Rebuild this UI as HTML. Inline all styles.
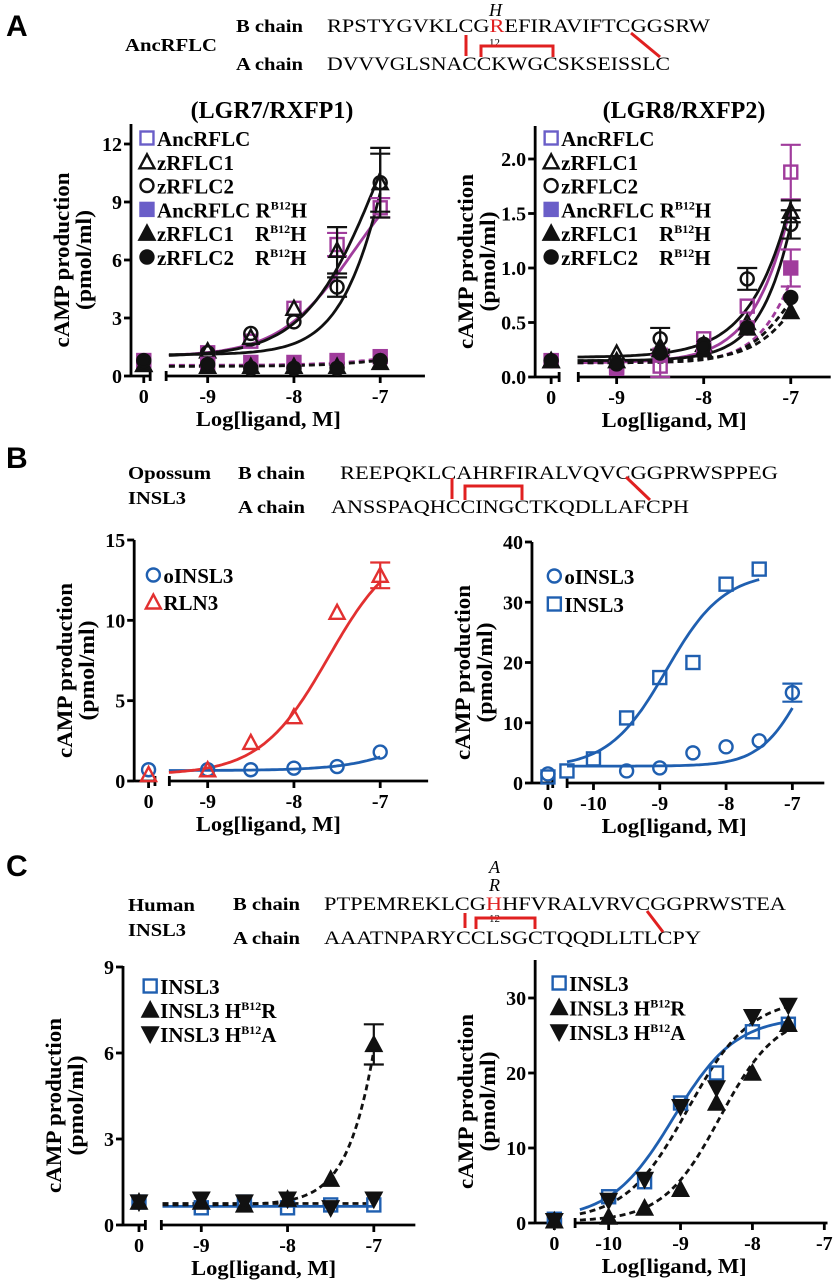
<!DOCTYPE html>
<html><head><meta charset="utf-8"><style>
html,body{margin:0;padding:0;background:#fff;}
svg{display:block;}
text{font-family:"Liberation Serif",serif;}
</style></head><body>
<svg id="fig" width="834" height="1280" viewBox="0 0 834 1280" xmlns="http://www.w3.org/2000/svg">
<g>
<text x="6" y="36" font-weight="bold" font-size="30" style="font-family:'Liberation Sans',sans-serif">A</text>
<text x="125" y="51" font-size="18" font-weight="bold" textLength="92" lengthAdjust="spacingAndGlyphs">AncRFLC</text>
<text x="236" y="32" font-size="18" font-weight="bold" textLength="67" lengthAdjust="spacingAndGlyphs">B chain</text>
<text x="236" y="70" font-size="18" font-weight="bold" textLength="67" lengthAdjust="spacingAndGlyphs">A chain</text>
<text x="489" y="16" font-size="18" font-style="italic">H</text>
<text x="327" y="32" font-size="19" textLength="383" lengthAdjust="spacingAndGlyphs">RPSTYGVKLCG<tspan fill="#e02020">R</tspan>EFIRAVIFTCGGSRW</text>
<text x="489" y="46" font-size="11">12</text>
<text x="327" y="70" font-size="19" textLength="343" lengthAdjust="spacingAndGlyphs">DVVVGLSNACCKWGCSKSEISSLC</text>
<g stroke="#e02020" stroke-width="3" fill="none">
<line x1="466" y1="35" x2="466" y2="56"/><polyline points="481,57 481,46 553,46 553,57"/><line x1="631" y1="33" x2="660" y2="57"/></g>
<text x="272" y="118" font-size="24" font-weight="bold" text-anchor="middle">(LGR7/RXFP1)</text>
<text x="684" y="118" font-size="24" font-weight="bold" text-anchor="middle">(LGR8/RXFP2)</text>
</g>
<g>
<text x="6" y="468" font-weight="bold" font-size="30" style="font-family:'Liberation Sans',sans-serif">B</text>
<text x="128" y="479" font-size="18" font-weight="bold" textLength="83" lengthAdjust="spacingAndGlyphs">Opossum</text>
<text x="128" y="504" font-size="18" font-weight="bold" textLength="58" lengthAdjust="spacingAndGlyphs">INSL3</text>
<text x="238" y="479" font-size="18" font-weight="bold" textLength="67" lengthAdjust="spacingAndGlyphs">B chain</text>
<text x="238" y="513" font-size="18" font-weight="bold" textLength="67" lengthAdjust="spacingAndGlyphs">A chain</text>
<text x="340" y="479" font-size="19" textLength="438" lengthAdjust="spacingAndGlyphs">REEPQKLCAHRFIRALVQVCGGPRWSPPEG</text>
<text x="331" y="513" font-size="19" textLength="358" lengthAdjust="spacingAndGlyphs">ANSSPAQHCCINGCTKQDLLAFCPH</text>
<g stroke="#e02020" stroke-width="3" fill="none">
<line x1="452" y1="478" x2="452" y2="499"/><polyline points="465,500 465,486 522,486 522,500"/><line x1="626" y1="477" x2="650" y2="500"/></g>
</g>
<g>
<text x="6" y="876" font-weight="bold" font-size="30" style="font-family:'Liberation Sans',sans-serif">C</text>
<text x="489" y="873" font-size="18" font-style="italic">A</text>
<text x="489" y="891" font-size="18" font-style="italic">R</text>
<text x="128" y="911" font-size="18" font-weight="bold" textLength="67" lengthAdjust="spacingAndGlyphs">Human</text>
<text x="128" y="936" font-size="18" font-weight="bold" textLength="58" lengthAdjust="spacingAndGlyphs">INSL3</text>
<text x="233" y="910" font-size="18" font-weight="bold" textLength="67" lengthAdjust="spacingAndGlyphs">B chain</text>
<text x="233" y="944" font-size="18" font-weight="bold" textLength="67" lengthAdjust="spacingAndGlyphs">A chain</text>
<text x="324" y="910" font-size="19" textLength="462" lengthAdjust="spacingAndGlyphs">PTPEMREKLCG<tspan fill="#e02020">H</tspan>HFVRALVRVCGGPRWSTEA</text>
<text x="489" y="922" font-size="11">12</text>
<text x="324" y="944" font-size="19" textLength="377" lengthAdjust="spacingAndGlyphs">AAATNPARYCCLSGCTQQDLLTLCPY</text>
<g stroke="#e02020" stroke-width="3" fill="none">
<line x1="465" y1="913" x2="465" y2="928"/><polyline points="476,929 476,918 535,918 535,929"/><line x1="647" y1="911" x2="663" y2="932"/></g>
</g>
<g id="charts"></g>
</svg>
<script>
// ---------- DATA ----------
const aL_x = [0, -9, -8.5, -8, -7.5, -7];
const aL_anc = [0.7, 1.2, 1.8, 3.5, 6.8, 8.7];
const aL_z1 = [0.6, 1.3, 2.0, 3.5, 6.5, 10.0];
const aL_z2 = [0.7, 1.2, 2.2, 2.8, 4.6, 10.0];
const aL_ancM = [0.8, 0.6, 0.7, 0.7, 0.8, 1.0];
const aL_z1M = [0.6, 0.5, 0.5, 0.5, 0.5, 0.7];
const aL_z2M = [0.8, 0.6, 0.4, 0.4, 0.4, 0.8];
const aL_err_anc = [0, 0, 0, 0, 0.6, 0.5];
const aL_err_z1 = [0, 0, 0, 0, 1.2, 1.8];
const aL_err_z2 = [0, 0, 0, 0, 0.5, 1.5];
const aR_x = [0, -9, -8.5, -8, -7.5, -7];
const aR_anc = [0.15, 0.1, 0.1, 0.35, 0.65, 1.88];
const aR_z1 = [0.15, 0.22, 0.28, 0.3, 0.5, 1.52];
const aR_z2 = [0.15, 0.1, 0.35, 0.3, 0.9, 1.4];
const aR_ancM = [0.15, 0.08, 0.2, 0.25, 0.45, 1.0];
const aR_z1M = [0.15, 0.15, 0.25, 0.25, 0.45, 0.6];
const aR_z2M = [0.15, 0.12, 0.22, 0.28, 0.45, 0.73];
const aR_err_anc = [0, 0, 0.1, 0, 0, 0.25];
const aR_err_z1 = [0, 0, 0, 0, 0, 0.1];
const aR_err_z2 = [0, 0, 0.1, 0, 0.1, 0.13];
const aR_err_ancM = [0, 0, 0, 0, 0, 0.17];
const bL_x = [0, -9, -8.5, -8, -7.5, -7];
const bL_oinsl3 = [0.7, 0.7, 0.7, 0.8, 0.9, 1.8];
const bL_rln3 = [0.4, 0.7, 2.4, 4.0, 10.5, 12.8];
const bL_err_rln3 = [0, 0, 0, 0, 0, 0.8];
const bR_xo = [0, -9.5, -9, -8.5, -8, -7.5, -7];
const bR_oinsl3 = [1.5, 2.0, 2.5, 5.0, 6.0, 7.0, 15.0];
const bR_err_o = [0, 0, 0, 0, 0, 0, 1.5];
const bR_xs = [0, -10.4, -10, -9.5, -9, -8.5, -8, -7.5];
const bR_insl3 = [1.0, 2.0, 4.0, 10.8, 17.5, 20.0, 33.0, 35.5];
const cL_x = [0, -9, -8.5, -8, -7.5, -7];
const cL_insl3 = [0.8, 0.6, 0.8, 0.6, 0.7, 0.7];
const cL_hr = [0.8, 0.8, 0.7, 0.9, 1.6, 6.3];
const cL_ha = [0.8, 0.9, 0.8, 0.9, 0.6, 0.9];
const cL_err_hr = [0, 0, 0, 0, 0, 0.7];
const cR_x = [0, -10, -9.5, -9, -8.5, -8, -7.5];
const cR_insl3 = [0.5, 3.5, 5.5, 16.0, 20.0, 25.5, 26.5];
const cR_hr = [0.3, 0.8, 2.0, 4.5, 16.0, 20.0, 26.5];
const cR_ha = [0.3, 3.0, 5.8, 15.5, 18.0, 27.5, 29.0];
// Fitted curve parameters [bottom, top, logEC50, hill]
const fit_aL = [[1.0,12,-7.3,1.0],[1.0,20,-7.0,1.0],[1.1,30,-6.7,1.3],[0.55,2,-6.5,1.0],[0.5,1.6,-6.6,1.0]];
const fit_aR = [[0.13,10,-6.36,1.2],[0.18,10,-6.3,1.1],[0.15,10,-6.4,1.4],[0.13,3,-6.7,1.5],[0.15,1.5,-6.8,1.5],[0.13,1.5,-6.9,1.5]];
const fit_bL = [[0.65,10,-6.0,1.0],[0.4,15,-7.6,1.1]];
const fit_bR = [[2.5,35,-8.9,1.0],[2.8,30,-6.8,1.3]];
const fit_cL = [[0.65,0.65,-7,1],[0.75,0.75,-7,1],[0.7,40,-6.5,1.6]];
const fit_cR = [[0.5,27.5,-9.1,1.0],[0.3,30,-8.9,1.0],[0.2,28,-8.45,1.1]];

// ---------- DRAWING ----------
const NS = 'http://www.w3.org/2000/svg';
const root = document.getElementById('charts');
const SX = 1.5975;
const PURPLE='#a03c9c', LPURPLE='#6a5ec8', BLUE='#1f5fb0', RED='#e23030', BLACK='#111';
function mk(tag, attrs, parent){const e=document.createElementNS(NS,tag);for(const k in attrs)e.setAttribute(k,attrs[k]);(parent||root).appendChild(e);return e;}

function marker(g, shape, cx, cy, s, color, fill){
  const sw=2.4; let e;
  const f = fill ? color : 'none';
  if(shape==='sq'){e=mk('rect',{x:cx-s/2,y:cy-s/2,width:s,height:s,fill:f,stroke:color,'stroke-width':sw},g);}
  else if(shape==='ci'){e=mk('circle',{cx:cx,cy:cy,r:s/2,fill:f,stroke:color,'stroke-width':sw},g);}
  else if(shape==='tu'){e=mk('polygon',{points:`${cx},${cy-s/2-1} ${cx-s/2-1},${cy+s/2} ${cx+s/2+1},${cy+s/2}`,fill:f,stroke:color,'stroke-width':sw},g);}
  else if(shape==='td'){e=mk('polygon',{points:`${cx},${cy+s/2+1} ${cx-s/2-1},${cy-s/2} ${cx+s/2+1},${cy-s/2}`,fill:f,stroke:color,'stroke-width':sw},g);}
  return e;
}

function chart(cfg){
  ['yAxisX','zeroX','zeroEnd','mainStart','mainEnd','xRef','dec','xTitleX','legX'].forEach(k=>cfg[k]*=SX);
  const g = mk('g',{});
  
  
  const X = v => v===0 ? cfg.zeroX : cfg.xRef + (v - cfg.xRefVal)*cfg.dec;
  const Y = v => cfg.y0 - v*cfg.ppu;
  const ax = mk('g',{stroke:'#000','stroke-width':2.8,fill:'none'},g);
  
  
  mk('line',{x1:cfg.yAxisX,y1:cfg.y0+1,x2:cfg.yAxisX,y2:cfg.yTop},ax);
  mk('line',{x1:cfg.yAxisX,y1:cfg.y0,x2:cfg.zeroEnd,y2:cfg.y0},ax);
  mk('line',{x1:cfg.zeroEnd,y1:cfg.y0-5,x2:cfg.zeroEnd,y2:cfg.y0+5},ax);
  mk('line',{x1:cfg.mainStart,y1:cfg.y0-5,x2:cfg.mainStart,y2:cfg.y0+5},ax);
  mk('line',{x1:cfg.mainStart,y1:cfg.y0,x2:cfg.mainEnd,y2:cfg.y0},ax);
  mk('line',{x1:cfg.zeroX,y1:cfg.y0,x2:cfg.zeroX,y2:cfg.y0+7},ax);
  cfg.yTicks.forEach((t,i)=>{
    mk('line',{x1:cfg.yAxisX-7,y1:Y(t),x2:cfg.yAxisX,y2:Y(t)},ax);
    const tx=mk('text',{x:cfg.yAxisX-9,y:Y(t)+7,'font-size':20,'font-weight':'bold','text-anchor':'end',fill:'#000'},g);
    tx.textContent=cfg.yTickLabels[i];
    
    
  });
  const xt=mk('text',{x:cfg.zeroX,y:cfg.y0+27,'font-size':20,'font-weight':'bold','text-anchor':'middle'},g);
  xt.textContent='0';
  
  
  cfg.xTicks.forEach(t=>{
    mk('line',{x1:X(t),y1:cfg.y0,x2:X(t),y2:cfg.y0+7},ax);
    const e=mk('text',{x:X(t),y:cfg.y0+27,'font-size':20,'font-weight':'bold','text-anchor':'middle'},g);
    e.textContent=String(t);
    
    
  });
  const cy=(cfg.y0+cfg.yTop)/2+10;
  const t1=mk('text',{x:0,y:0,'font-size':22,'font-weight':'bold','text-anchor':'middle',textLength:175,lengthAdjust:'spacingAndGlyphs',transform:`translate(${cfg.yAxisX-62},${cy}) rotate(-90)`},g);
  t1.textContent='cAMP production';
  
  
  const t2=mk('text',{x:0,y:0,'font-size':22,'font-weight':'bold','text-anchor':'middle',textLength:100,lengthAdjust:'spacingAndGlyphs',transform:`translate(${cfg.yAxisX-40},${cy}) rotate(-90)`},g);
  t2.textContent='(pmol/ml)';
  
  
  const t3=mk('text',{x:cfg.xTitleX,y:cfg.y0+50,'font-size':21,'font-weight':'bold','text-anchor':'middle',textLength:145,lengthAdjust:'spacingAndGlyphs'},g);
  t3.textContent='Log[ligand, M]';
  
  
  cfg.fits.forEach((p,i)=>{
    const st=cfg.fitStyle[i]; let d='';
    const x0=st.from, x1=st.to;
    for(let k=0;k<=80;k++){const xv=x0+(x1-x0)*k/80;const yv=p[0]+(p[1]-p[0])/(1+Math.pow(10,(p[2]-xv)*p[3]));d+=(k?'L':'M')+X(xv).toFixed(1)+','+Y(yv).toFixed(1);}
    const c=mk('path',{d:d,fill:'none',stroke:st.color,'stroke-width':2.8,'stroke-dasharray':st.dash?'6,4':'none'},g);
    
    
  });
  cfg.series.forEach(s=>{
    const sg=mk('g',{},g);
    
    
    s.y.forEach((v,i)=>{
      const px=X(s.x[i]), py=Y(v);
      if(s.err && s.err[i]>0){
        const e=s.err[i];
        mk('line',{x1:px,y1:Y(v+e),x2:px,y2:Y(v-e),stroke:s.color,'stroke-width':2.2},sg);
        mk('line',{x1:px-10,y1:Y(v+e),x2:px+10,y2:Y(v+e),stroke:s.color,'stroke-width':2.2},sg);
        mk('line',{x1:px-10,y1:Y(v-e),x2:px+10,y2:Y(v-e),stroke:s.color,'stroke-width':2.2},sg);
      }
      const m=marker(sg,s.shape,px,py,13,s.color,s.fill);
      
      
    });
  });
  cfg.legend.forEach((L,i)=>{
    const lg=mk('g',{},g);
    
    
    const ly=cfg.legY+i*cfg.legDy;
    marker(lg,L.shape,cfg.legX,ly,13,L.color,L.fill);
    const tx=mk('text',{x:cfg.legX+10,y:ly+8,'font-size':21,'font-weight':'bold'},lg);
    tx.innerHTML=L.html;
  });
}

const sup='<tspan font-size="12" dy="-8">B12</tspan><tspan dy="8">';
const HV = (s,t)=>s+sup+t+'</tspan>';

chart({name:'chart-a-lgr7',yAxisX:82,y0:376,ppu:232/12,yTop:124,yTicks:[0,3,6,9,12],yTickLabels:['0','3','6','9','12'],
  zeroX:90,zeroEnd:94,mainStart:104,mainEnd:266,xRef:238,xRefVal:-7,dec:54,xTicks:[-9,-8,-7],xTitleX:168,
  fits:fit_aL,fitStyle:[{color:PURPLE,from:-9.45,to:-7},{color:BLACK,from:-9.45,to:-7},{color:BLACK,from:-9.45,to:-7},{color:PURPLE,dash:1,from:-9.45,to:-7},{color:BLACK,dash:1,from:-9.45,to:-7}],
  series:[{key:'anc',x:aL_x,y:aL_anc,err:aL_err_anc,shape:'sq',color:PURPLE},{key:'z1',x:aL_x,y:aL_z1,err:aL_err_z1,shape:'tu',color:BLACK},{key:'z2',x:aL_x,y:aL_z2,err:aL_err_z2,shape:'ci',color:BLACK},
    {key:'anc-mut',x:aL_x,y:aL_ancM,shape:'sq',color:PURPLE,fill:1},{key:'z1-mut',x:aL_x,y:aL_z1M,shape:'tu',color:BLACK,fill:1},{key:'z2-mut',x:aL_x,y:aL_z2M,shape:'ci',color:BLACK,fill:1}],
  legX:92,legY:138,legDy:23.8,legend:[{shape:'sq',color:LPURPLE,html:'AncRFLC'},{shape:'tu',color:BLACK,html:'zRFLC1'},{shape:'ci',color:BLACK,html:'zRFLC2'},
    {shape:'sq',color:LPURPLE,fill:1,html:HV('AncRFLC R','H')},{shape:'tu',color:BLACK,fill:1,html:HV('zRFLC1 \u00a0\u00a0 R','H')},{shape:'ci',color:BLACK,fill:1,html:HV('zRFLC2 \u00a0\u00a0 R','H')}]});

chart({name:'chart-a-lgr8',yAxisX:335,y0:377,ppu:218/2,yTop:126,yTicks:[0,0.5,1,1.5,2],yTickLabels:['0.0','0.5','1.0','1.5','2.0'],
  zeroX:345,zeroEnd:350,mainStart:362,mainEnd:520,xRef:495,xRefVal:-7,dec:54.5,xTicks:[-9,-8,-7],xTitleX:422,
  fits:fit_aR,fitStyle:[{color:PURPLE,from:-9.45,to:-7},{color:BLACK,from:-9.45,to:-7},{color:BLACK,from:-9.45,to:-7},{color:PURPLE,dash:1,from:-9.45,to:-7},{color:BLACK,dash:1,from:-9.45,to:-7},{color:BLACK,dash:1,from:-9.45,to:-7}],
  series:[{key:'anc',x:aR_x,y:aR_anc,err:aR_err_anc,shape:'sq',color:PURPLE},{key:'z1',x:aR_x,y:aR_z1,err:aR_err_z1,shape:'tu',color:BLACK},{key:'z2',x:aR_x,y:aR_z2,err:aR_err_z2,shape:'ci',color:BLACK},
    {key:'anc-mut',x:aR_x,y:aR_ancM,err:aR_err_ancM,shape:'sq',color:PURPLE,fill:1},{key:'z1-mut',x:aR_x,y:aR_z1M,shape:'tu',color:BLACK,fill:1},{key:'z2-mut',x:aR_x,y:aR_z2M,shape:'ci',color:BLACK,fill:1}],
  legX:345,legY:138,legDy:23.8,legend:[{shape:'sq',color:LPURPLE,html:'AncRFLC'},{shape:'tu',color:BLACK,html:'zRFLC1'},{shape:'ci',color:BLACK,html:'zRFLC2'},
    {shape:'sq',color:LPURPLE,fill:1,html:HV('AncRFLC R','H')},{shape:'tu',color:BLACK,fill:1,html:HV('zRFLC1 \u00a0\u00a0 R','H')},{shape:'ci',color:BLACK,fill:1,html:HV('zRFLC2 \u00a0\u00a0 R','H')}]});

chart({name:'chart-b-left',yAxisX:84,y0:781,ppu:241/15,yTop:540,yTicks:[0,5,10,15],yTickLabels:['0','5','10','15'],
  zeroX:93,zeroEnd:97,mainStart:106,mainEnd:268,xRef:238,xRefVal:-7,dec:54,xTicks:[-9,-8,-7],xTitleX:168,
  fits:fit_bL,fitStyle:[{color:BLUE,from:-9.45,to:-7},{color:RED,from:-9.45,to:-7}],
  series:[{key:'oinsl3',x:bL_x,y:bL_oinsl3,shape:'ci',color:BLUE},{key:'rln3',x:bL_x,y:bL_rln3,err:bL_err_rln3,shape:'tu',color:RED}],
  legX:96,legY:575,legDy:27,legend:[{shape:'ci',color:BLUE,html:'oINSL3'},{shape:'tu',color:RED,html:'RLN3'}]});

chart({name:'chart-b-right',yAxisX:333,y0:783,ppu:241/40,yTop:542,yTicks:[0,10,20,30,40],yTickLabels:['0','10','20','30','40'],
  zeroX:343,zeroEnd:346,mainStart:355,mainEnd:516,xRef:496,xRefVal:-7,dec:41.5,xTicks:[-10,-9,-8,-7],xTitleX:422,
  fits:fit_bR,fitStyle:[{color:BLUE,from:-10.4,to:-7.5},{color:BLUE,from:-10.4,to:-7}],
  series:[{key:'oinsl3',x:bR_xo,y:bR_oinsl3,err:bR_err_o,shape:'ci',color:BLUE},{key:'insl3',x:bR_xs,y:bR_insl3,shape:'sq',color:BLUE}],
  legX:347,legY:576,legDy:28,legend:[{shape:'ci',color:BLUE,html:'oINSL3'},{shape:'sq',color:BLUE,html:'INSL3'}]});

chart({name:'chart-c-left',yAxisX:77,y0:1225,ppu:258/9,yTop:966,yTicks:[0,3,6,9],yTickLabels:['0','3','6','9'],
  zeroX:87,zeroEnd:91,mainStart:101,mainEnd:260,xRef:234,xRefVal:-7,dec:54,xTicks:[-9,-8,-7],xTitleX:165,
  fits:fit_cL,fitStyle:[{color:BLUE,from:-9.45,to:-7},{color:BLACK,dash:1,from:-9.45,to:-7},{color:BLACK,dash:1,from:-9.45,to:-7}],
  series:[{key:'insl3',x:cL_x,y:cL_insl3,shape:'sq',color:BLUE},{key:'h-r',x:cL_x,y:cL_hr,err:cL_err_hr,shape:'tu',color:BLACK,fill:1},{key:'h-a',x:cL_x,y:cL_ha,shape:'td',color:BLACK,fill:1}],
  legX:94,legY:986,legDy:24,legend:[{shape:'sq',color:BLUE,html:'INSL3'},{shape:'tu',color:BLACK,fill:1,html:HV('INSL3 H','R')},{shape:'td',color:BLACK,fill:1,html:HV('INSL3 H','A')}]});

chart({name:'chart-c-right',yAxisX:335,y0:1223,ppu:7.5,yTop:960,yTicks:[0,10,20,30],yTickLabels:['0','10','20','30'],
  zeroX:347,zeroEnd:351,mainStart:360,mainEnd:518,xRef:516,xRefVal:-7,dec:45,xTicks:[-10,-9,-8,-7],xTitleX:422,
  fits:fit_cR,fitStyle:[{color:BLUE,from:-10.4,to:-7.5},{color:BLACK,dash:1,from:-10.4,to:-7.5},{color:BLACK,dash:1,from:-10.4,to:-7.5}],
  series:[{key:'insl3',x:cR_x,y:cR_insl3,shape:'sq',color:BLUE},{key:'h-r',x:cR_x,y:cR_hr,shape:'tu',color:BLACK,fill:1},{key:'h-a',x:cR_x,y:cR_ha,shape:'td',color:BLACK,fill:1}],
  legX:350,legY:983,legDy:24.5,legend:[{shape:'sq',color:BLUE,html:'INSL3'},{shape:'tu',color:BLACK,fill:1,html:HV('INSL3 H','R')},{shape:'td',color:BLACK,fill:1,html:HV('INSL3 H','A')}]});
</script>
</body></html>
